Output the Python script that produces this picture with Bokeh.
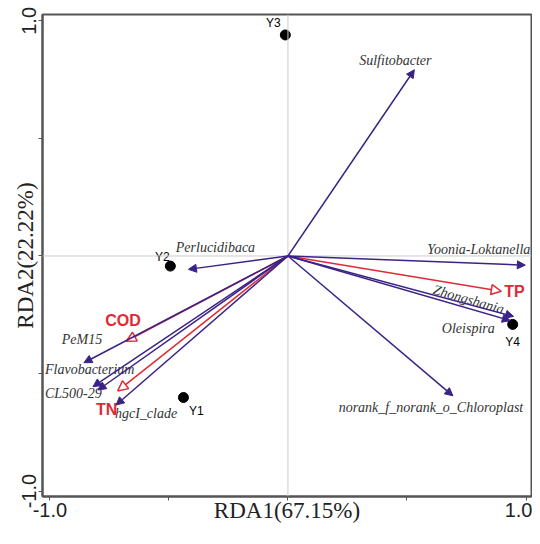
from bokeh.plotting import figure
from bokeh.models import ColumnDataSource, Arrow, NormalHead, Span, FixedTicker, PrintfTickFormatter
from bokeh.core.properties import value
from bokeh.embed import file_html
from bokeh.resources import INLINE

# ---- data (RDA scores) ----
species = ["Sulfitobacter", "Yoonia-Loktanella", "Zhongshania", "Oleispira",
           "norank_f_norank_o_Chloroplast", "Perlucidibaca", "PeM15",
           "Flavobacterium", "CL500-29", "hgcI_clade"]
species_rda1 = [0.531, 0.997, 0.948, 0.934, 0.693, -0.418, -0.857, -0.819, -0.798, -0.722]
species_rda2 = [0.792, -0.039, -0.257, -0.275, -0.595, -0.057, -0.454, -0.556, -0.570, -0.634]

env = ["TP", "COD", "TN"]
env_rda1 = [0.896, -0.680, -0.715]
env_rda2 = [-0.150, -0.363, -0.574]

samples = ["Y1", "Y2", "Y3", "Y4"]
sample_rda1 = [-0.439, -0.494, -0.011, 0.944]
sample_rda2 = [-0.602, -0.043, 0.940, -0.291]

tick_values = [-1.0, 1.0]
minor_tick_values = [-0.5, 0.0, 0.5]

x_title = "RDA1(67.15%)"
y_title = "RDA2(22.22%)"

# ---- styles / label placement (screen px, dy positive = down) ----
PURPLE = "#3a2385"
RED = "#e02a35"
AXIS = "#555555"
sp_dx = [-19, 5, -45, -42, -22, 27, -2, -48, -53, 30]
sp_dy = [-9, -16, -17, 8, 12, -22, -23, -17, 4, 8]
sp_align = ["center", "right", "center", "center", "center", "center", "center", "left", "left", "center"]
sp_angle = [0, 0, -0.28, 0, 0, 0, 0, 0, 0, 0]
env_dx = [3, -3, -11]
env_dy = [0, -21, 19]
env_align = ["left", "center", "center"]
smp_dx = [13, -8, -12, 0]
smp_dy = [13, -9, -12, 18]

p = figure(width=532, height=528, x_range=(-1.031, 1.023), y_range=(-1.023, 1.027),
           output_backend="svg", toolbar_location=None,
           min_border_left=42, min_border_right=1, min_border_top=14, min_border_bottom=32)
p.xgrid.visible = False
p.ygrid.visible = False
p.outline_line_color = AXIS
p.outline_line_width = 2
p.background_fill_color = "white"
p.border_fill_color = "white"

for ax in (p.xaxis[0], p.yaxis[0]):
    ax.ticker = FixedTicker(ticks=tick_values, minor_ticks=minor_tick_values)
    ax.formatter = PrintfTickFormatter(format="%.1f")
    ax.major_tick_in = 0
    ax.major_tick_out = 4
    ax.minor_tick_in = 0
    ax.minor_tick_out = 4
    ax.axis_line_color = AXIS
    ax.axis_line_width = 2
    ax.major_tick_line_color = AXIS
    ax.minor_tick_line_color = AXIS
    ax.major_label_text_font = "Liberation Sans"
    ax.major_label_text_font_size = "20px"
    ax.major_label_text_color = "#222222"
    ax.major_label_standoff = 2
    ax.axis_label_text_font = "Liberation Serif"
    ax.axis_label_text_font_size = "23px"
    ax.axis_label_text_font_style = "normal"
    ax.axis_label_text_color = "#222222"

p.xaxis.axis_label = x_title
p.yaxis.axis_label = y_title
p.xaxis.axis_label_standoff = -22
p.yaxis.axis_label_standoff = -18
p.yaxis.major_label_orientation = "vertical"

p.add_layout(Span(location=0, dimension="height", line_color="#cccccc", line_width=1))
p.add_layout(Span(location=0, dimension="width", line_color="#cccccc", line_width=1))

env_src = ColumnDataSource(dict(x=env_rda1, y=env_rda2, name=env, dx=env_dx, dy=env_dy, align=env_align))
sp_src = ColumnDataSource(dict(x=species_rda1, y=species_rda2, name=species, dx=sp_dx, dy=sp_dy,
                               align=sp_align, angle=sp_angle))
smp_src = ColumnDataSource(dict(x=sample_rda1, y=sample_rda2, name=samples, dx=smp_dx, dy=smp_dy))

p.add_layout(Arrow(end=NormalHead(size=10, fill_color="white", line_color=RED, line_width=1.5),
                   x_start=0, y_start=0, x_end="x", y_end="y", source=env_src,
                   line_color=RED, line_width=1.5))
p.add_layout(Arrow(end=NormalHead(size=8, fill_color=PURPLE, line_color=PURPLE, line_width=1),
                   x_start=0, y_start=0, x_end="x", y_end="y", source=sp_src,
                   line_color=PURPLE, line_width=1.5))

p.scatter("x", "y", source=smp_src, size=10, color="black")

p.text("x", "y", text="name", source=sp_src, x_offset="dx", y_offset="dy", text_align="align",
       angle="angle", text_baseline="middle", text_font=value("Liberation Serif"),
       text_font_style="italic", text_font_size="14px", text_color="#333333")
p.text("x", "y", text="name", source=env_src, x_offset="dx", y_offset="dy", text_align="align",
       text_baseline="middle", text_font=value("Liberation Sans"), text_font_style="bold",
       text_font_size="16px", text_color=RED)
p.text("x", "y", text="name", source=smp_src, x_offset="dx", y_offset="dy", text_align="center",
       text_baseline="middle", text_font=value("Liberation Sans"), text_font_size="12px",
       text_color="black")

open("out.html", "w").write(file_html(p, INLINE))
